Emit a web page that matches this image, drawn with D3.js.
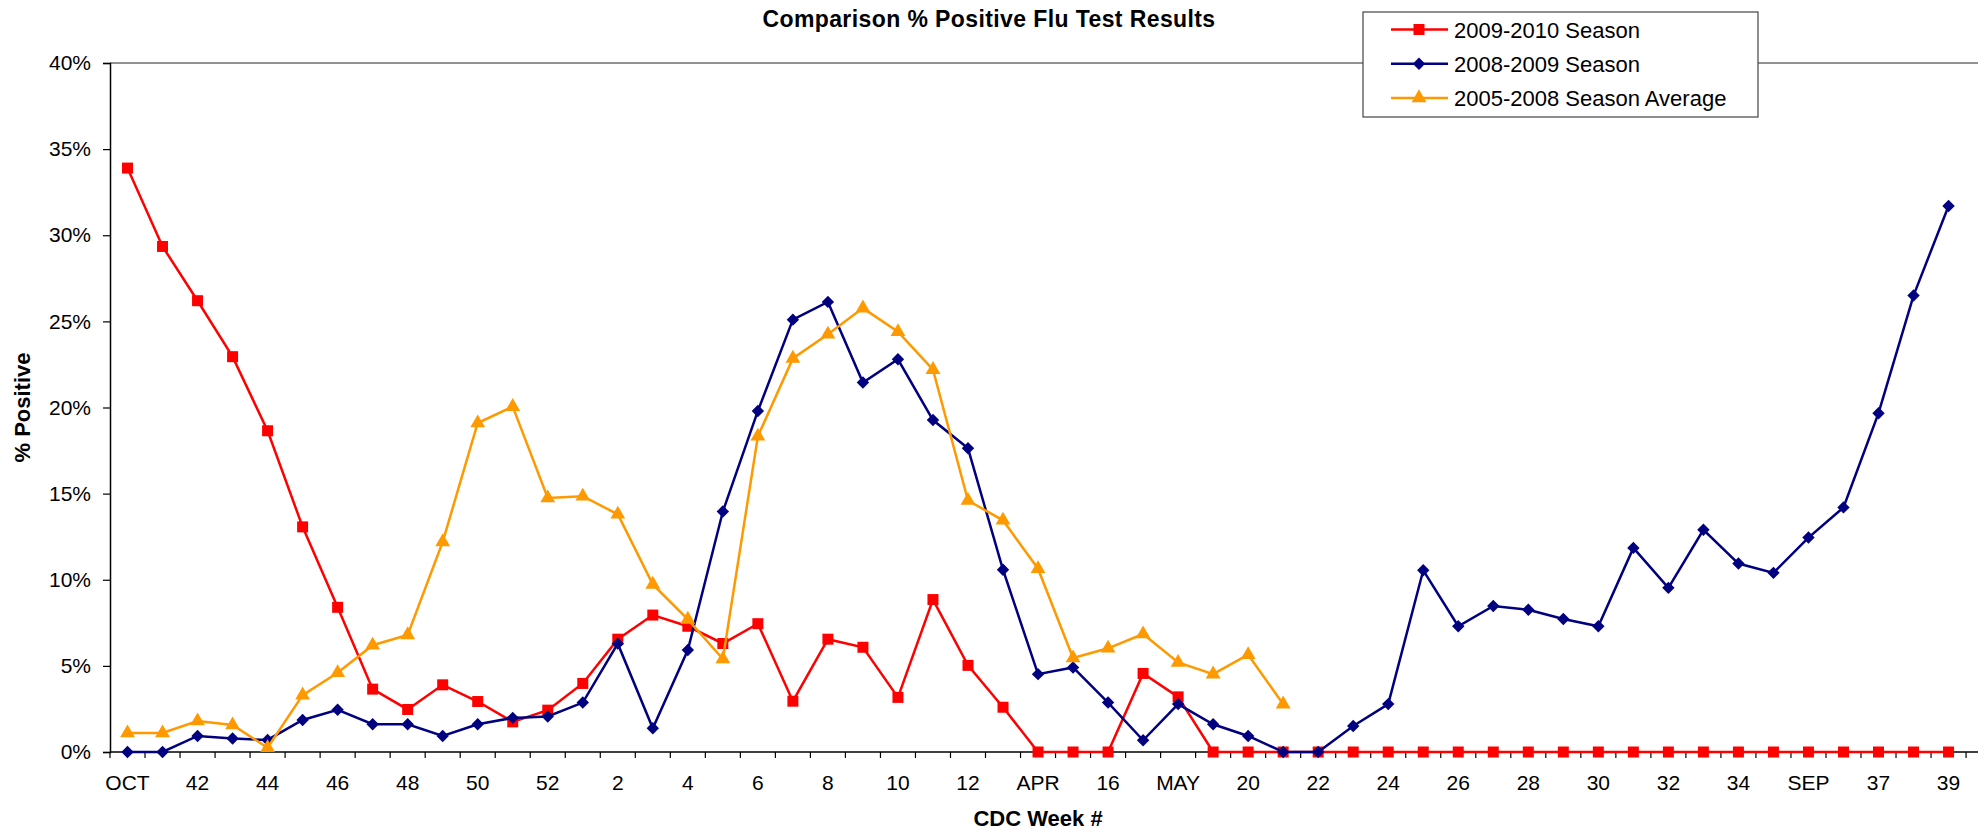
<!DOCTYPE html>
<html>
<head>
<meta charset="utf-8">
<script src="https://cdn.jsdelivr.net/npm/d3@7"></script>
<style>
  body { margin: 0; background: #fff; }
  svg { font-family: "Liberation Sans", Arial, sans-serif; display: block; }
</style>
</head>
<body>
<svg id="chart" width="1978" height="833"></svg>
<script>
// CDC week categories (only every other label is shown on the axis)
const weeks = [
  "OCT", "41", "42", "43", "44", "45", "46", "47", "48", "49", "50", "51", "52",
  "1", "2", "3", "4", "5", "6", "7", "8", "9", "10", "11", "12", "13",
  "APR", "15", "16", "17", "MAY", "19", "20", "21", "22", "23", "24", "25", "26",
  "27", "28", "29", "30", "31", "32", "33", "34", "35", "SEP", "36", "37", "38", "39"
];

const season0910 = [
  33.9, 29.35, 26.2, 22.95, 18.65, 13.07, 8.4, 3.65, 2.47, 3.9, 2.93, 1.75, 2.43,
  3.98, 6.55, 7.95, 7.3, 6.3, 7.45, 2.95, 6.55, 6.08, 3.17, 8.85, 5.03, 2.6,
  0, 0, 0, 4.56, 3.2, 0, 0, 0, 0, 0, 0, 0, 0,
  0, 0, 0, 0, 0, 0, 0, 0, 0, 0, 0, 0, 0, 0
];

const season0809 = [
  0, 0, 0.93, 0.78, 0.7, 1.86, 2.45, 1.61, 1.61, 0.93, 1.61, 1.98, 2.06,
  2.87, 6.29, 1.38, 5.92, 13.96, 19.8, 25.1, 26.13, 21.45, 22.8, 19.27, 17.63, 10.58,
  4.52, 4.91, 2.87, 0.68, 2.78, 1.61, 0.93, 0, 0, 1.51, 2.78, 10.55, 7.3,
  8.48, 8.26, 7.72, 7.3, 11.85, 9.53, 12.9, 10.94, 10.4, 12.45, 14.2, 19.67, 26.5, 31.7
];

const avg0508 = [
  1.1, 1.1, 1.8, 1.57, 0.25, 3.3, 4.6, 6.2, 6.8, 12.2, 19.1, 20.05, 14.75,
  14.85, 13.8, 9.73, 7.7, 5.4, 18.33, 22.85, 24.25, 25.77, 24.4, 22.2, 14.6, 13.45,
  10.64, 5.46, 6.02, 6.85, 5.2, 4.52, 5.65, 2.78, null, null, null, null, null,
  null, null, null, null, null, null, null, null, null, null, null, null, null, null
];

const yTicks = [0, 5, 10, 15, 20, 25, 30, 35, 40];

const series = [
  { name: "2009-2010 Season", values: season0910, color: "#ff0000", shape: "square" },
  { name: "2008-2009 Season", values: season0809, color: "#000080", shape: "diamond" },
  { name: "2005-2008 Season Average", values: avg0508, color: "#ff9900", shape: "triangle" }
];

const width = 1978, height = 833;
const plotLeft = 110, plotTop = 63, plotBottom = 752, band = 35.02;

const svg = d3.select("#chart");

const x = d3.scaleBand()
  .domain(d3.range(weeks.length))
  .range([plotLeft, plotLeft + band * weeks.length])
  .padding(0);

const y = d3.scaleLinear().domain([0, 40]).range([plotBottom, plotTop]);

const cx = i => x(i) + x.bandwidth() / 2;

// top frame line at 40%
svg.append("line")
  .attr("x1", plotLeft).attr("x2", width)
  .attr("y1", y(40)).attr("y2", y(40))
  .attr("stroke", "#6e6e6e").attr("stroke-width", 1.5);

// y axis
const yAxis = svg.append("g")
  .attr("transform", `translate(${plotLeft},0)`)
  .call(d3.axisLeft(y).tickValues(yTicks).tickSize(7).tickPadding(12).tickFormat(d => d + "%"));
yAxis.select(".domain").attr("stroke", "#000").attr("stroke-width", 1.5);
yAxis.selectAll(".tick line").attr("stroke", "#000").attr("stroke-width", 1.2);
yAxis.selectAll(".tick text")
  .attr("font-size", 21).attr("fill", "#000")
  .attr("font-family", "Liberation Sans, Arial, sans-serif");

// x axis: ticks between categories, labels on every other category
const xg = svg.append("g");
xg.append("line")
  .attr("x1", plotLeft).attr("x2", width)
  .attr("y1", plotBottom).attr("y2", plotBottom)
  .attr("stroke", "#000").attr("stroke-width", 1.5);
xg.selectAll("line.tick")
  .data(d3.range(weeks.length + 1))
  .join("line")
  .attr("class", "tick")
  .attr("x1", i => plotLeft + i * x.step()).attr("x2", i => plotLeft + i * x.step())
  .attr("y1", plotBottom).attr("y2", plotBottom + 6)
  .attr("stroke", "#000").attr("stroke-width", 1.2);
xg.selectAll("text")
  .data(weeks.map((w, i) => ({ w, i })).filter(d => d.i % 2 === 0))
  .join("text")
  .attr("x", d => cx(d.i))
  .attr("y", 790)
  .attr("text-anchor", "middle")
  .attr("font-size", 21)
  .text(d => d.w);

// axis titles
svg.append("text")
  .attr("x", plotLeft + band * weeks.length / 2).attr("y", 826)
  .attr("text-anchor", "middle")
  .attr("font-size", 22).attr("font-weight", "bold")
  .text("CDC Week #");

svg.append("text")
  .attr("transform", `translate(30,${(plotTop + plotBottom) / 2}) rotate(-90)`)
  .attr("text-anchor", "middle")
  .attr("font-size", 22).attr("font-weight", "bold")
  .text("% Positive");

svg.append("text")
  .attr("x", width / 2).attr("y", 27)
  .attr("text-anchor", "middle")
  .attr("font-size", 23).attr("font-weight", "bold")
  .attr("letter-spacing", 0.4)
  .text("Comparison % Positive Flu Test Results");

// markers
const symbols = {
  square: d3.symbol().type(d3.symbolSquare).size(121),
  diamond: d3.symbol().type(d3.symbolDiamond2).size(98),
  triangle: d3.symbol().type(d3.symbolTriangle).size(95)
};

const line = d3.line()
  .defined(d => d != null)
  .x((d, i) => cx(i))
  .y(d => y(d));

series.forEach(s => {
  const g = svg.append("g");
  g.append("path")
    .attr("d", line(s.values))
    .attr("fill", "none")
    .attr("stroke", s.color)
    .attr("stroke-width", 2.5);
  g.selectAll("path.m")
    .data(s.values.map((v, i) => ({ v, i })).filter(d => d.v != null))
    .join("path")
    .attr("class", "m")
    .attr("d", symbols[s.shape])
    .attr("transform", d => `translate(${cx(d.i)},${y(d.v)})`)
    .attr("fill", s.color);
});

// legend
const lg = svg.append("g");
lg.append("rect")
  .attr("x", 1363).attr("y", 12)
  .attr("width", 395).attr("height", 105)
  .attr("fill", "#fff").attr("stroke", "#444").attr("stroke-width", 1.2);
series.forEach((s, k) => {
  const ly = 29.5 + k * 34.2;
  lg.append("line")
    .attr("x1", 1391).attr("x2", 1448)
    .attr("y1", ly).attr("y2", ly)
    .attr("stroke", s.color).attr("stroke-width", 2.5);
  lg.append("path")
    .attr("d", symbols[s.shape])
    .attr("transform", `translate(1419,${ly})`)
    .attr("fill", s.color);
  lg.append("text")
    .attr("x", 1454).attr("y", ly + 8)
    .attr("font-size", 22)
    .text(s.name);
});
</script>
</body>
</html>
